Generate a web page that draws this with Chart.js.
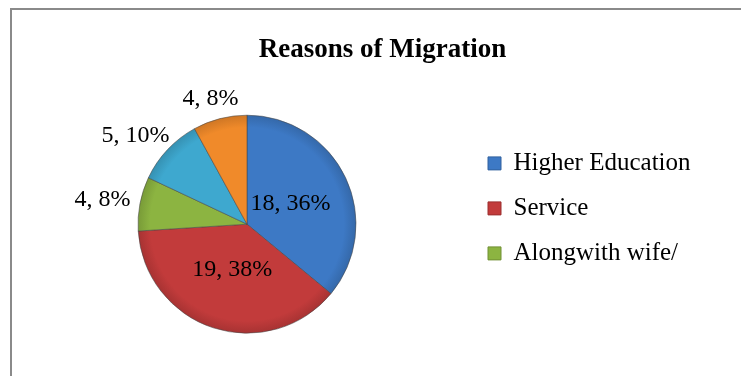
<!DOCTYPE html>
<html>
<head>
<meta charset="utf-8">
<script src="https://cdn.jsdelivr.net/npm/chart.js@4.4.1/dist/chart.umd.min.js"></script>
<style>
  html, body { margin: 0; padding: 0; background: #fff; overflow: hidden; }
  #frame { position: absolute; left: 10px; top: 8px; width: 780px; height: 420px; border: 2px solid #8a8a8a; }
  #wrap { position: absolute; left: 0; top: 0; width: 741px; height: 376px; }
</style>
</head>
<body>
<div id="frame"></div>
<div id="wrap"><canvas id="chart"></canvas></div>
<script>
// Reasons of Migration: pie with value + percent labels.
// Only the first three categories fit in the legend box of the original.

const reasons = ["Higher Education", "Service", "Alongwith wife/", "Category 4", "Category 5"];
const counts = [18, 19, 4, 5, 4];
const colors = ["#3d79c5", "#c23b3b", "#8cb441", "#3ea8cf", "#f08a2a"];
const legendShown = 3;

const SERIF = '"Liberation Serif", "Times New Roman", serif';
const total = counts.reduce((s, v) => s + v, 0);
const pct = (v) => `${Math.round((v / total) * 100)}%`;

function darker(hex, f) {
  const n = parseInt(hex.slice(1), 16);
  const r = Math.round(((n >> 16) & 255) * f);
  const g = Math.round(((n >> 8) & 255) * f);
  const b = Math.round((n & 255) * f);
  return `rgb(${r},${g},${b})`;
}

function sliceFill(c) {
  const base = colors[c.dataIndex];
  const area = c.chart.chartArea;
  if (!area) return base;
  const cx = (area.left + area.right) / 2;
  const cy = (area.top + area.bottom) / 2;
  const g = c.chart.ctx.createRadialGradient(cx, cy, 0, cx, cy, 110);
  g.addColorStop(0, base);
  g.addColorStop(0.88, base);
  g.addColorStop(1, darker(base, 0.85));
  return g;
}

// legend sits at a fixed width so the pie and title land where the original has them
const legendWidth = {
  id: "legendWidth",
  beforeLayout(chart) {
    const lg = chart.legend;
    if (lg && !lg._fixedWidth) {
      const fit = lg.fit;
      lg.fit = function () { fit.call(this); this.width = 271; };
      lg._fixedWidth = true;
    }
  },
};

// "value, percent" labels: inside the big slices, outside the small ones
const sliceLabels = {
  id: "sliceLabels",
  afterDatasetsDraw(chart) {
    const ctx = chart.ctx;
    const arcs = chart.getDatasetMeta(0).data;
    ctx.save();
    ctx.font = `24px ${SERIF}`;
    ctx.fillStyle = "#000";
    ctx.textAlign = "center";
    ctx.textBaseline = "middle";
    arcs.forEach((arc, i) => {
      const { x, y, startAngle, endAngle, outerRadius } = arc.getProps(["x", "y", "startAngle", "endAngle", "outerRadius"], true);
      const mid = (startAngle + endAngle) / 2;
      const dx = Math.cos(mid), dy = Math.sin(mid);
      const text = `${counts[i]}, ${pct(counts[i])}`;
      if (counts[i] / total > 0.2) {
        const r = outerRadius * 0.44;
        ctx.fillText(text, x + dx * r, y + dy * r);
      } else {
        const w = ctx.measureText(text).width;
        const r = outerRadius + 10;
        ctx.fillText(text, x + dx * r + dx * w / 2, y + dy * r + dy * 11);
      }
    });
    ctx.restore();
  },
};

new Chart(document.getElementById("chart"), {
  type: "pie",
  data: {
    labels: reasons,
    datasets: [{
      data: counts,
      backgroundColor: sliceFill,
      borderColor: "rgba(70,70,70,0.55)",
      borderWidth: 1,
      radius: 109,
    }],
  },
  options: {
    responsive: true,
    maintainAspectRatio: false,
    animation: false,
    layout: { padding: { left: 26, right: 2, top: 0, bottom: 28 } },
    plugins: {
      tooltip: { enabled: false },
      title: {
        display: true,
        text: "Reasons of Migration",
        color: "#000",
        font: { family: SERIF, size: 27, weight: "bold" },
        padding: { top: 34, bottom: 34 },
      },
      legend: {
        position: "right",
        align: "start",
        fullSize: false,
        title: { display: true, text: "", font: { size: 10 }, padding: { top: 9, bottom: 9.5 } },
        labels: {
          color: "#000",
          font: { family: SERIF, size: 25 },
          boxWidth: 13,
          boxHeight: 13,
          padding: 20,
          generateLabels: () => reasons.map((text, i) => ({
            text, index: i, fillStyle: colors[i], strokeStyle: darker(colors[i], 0.8),
            lineWidth: 1, hidden: false, fontColor: "#000",
          })),
          filter: (item) => item.index < legendShown,
        },
      },
    },
  },
  plugins: [legendWidth, sliceLabels],
});
</script>
</body>
</html>
